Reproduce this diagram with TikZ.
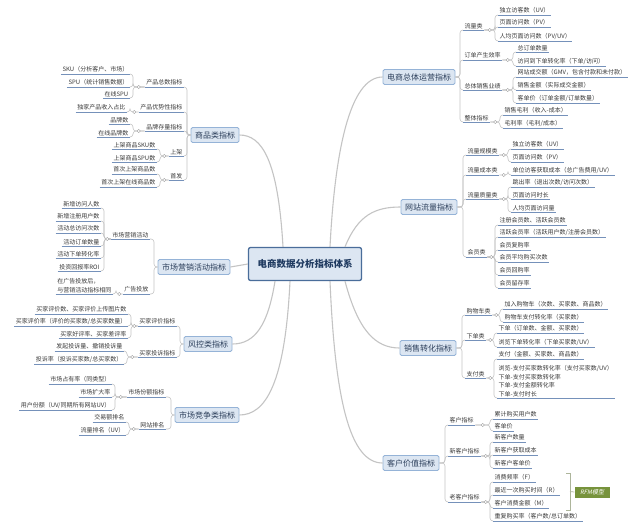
\documentclass[tikz,border=0pt]{standalone}
\usepackage{fontspec}
\newfontfamily\cjk{Noto Sans CJK SC}
\newfontfamily\cjkit[FakeSlant=0.2]{Noto Sans CJK SC}
\usetikzlibrary{calc}
\definecolor{txt}{HTML}{3A3A3A}
\definecolor{ulc}{HTML}{7591BA}
\definecolor{brc}{HTML}{C4C4C4}
\definecolor{boxfill}{HTML}{DCE6F2}
\definecolor{boxdraw}{HTML}{95B3D7}
\definecolor{boxtxt}{HTML}{2B3E5A}
\definecolor{cendraw}{HTML}{4A6D9A}
\definecolor{centxt}{HTML}{1F3A60}
\definecolor{rfmc}{HTML}{77933C}
\newcommand\rbranch[3]{%
  \foreach \c in {#3}{\draw[br] (#1.south east) -- (#1.south east -| #2) |- (\c.south west);}
  \draw[mk] ($(#1.south east)!0.5!(#1.south east -| #2)$) circle[radius=1.6pt];}
\newcommand\lbranch[3]{%
  \foreach \c in {#3}{\draw[br] (#1.south west) -- (#1.south west -| #2) |- (\c.south east);}
  \draw[mk] ($(#1.south west)!0.5!(#1.south west -| #2)$) circle[radius=1.6pt];}
\newcommand\rmain[3]{%
  \foreach \c in {#3}{\draw[br] (#1.east) -- (#1.east -| #2) |- (\c.south west);}}
\newcommand\lmain[3]{%
  \foreach \c in {#3}{\draw[br] (#1.west) -- (#1.west -| #2) |- (\c.south east);}}
\begin{document}
\begin{tikzpicture}[x=1pt,y=-1pt,
  lbl/.style={font=\cjk\fontsize{6}{8.5}\selectfont, text=txt, inner xsep=1.5pt, inner ysep=1.3pt,
    append after command={(\tikzlastnode.south west) edge[draw=ulc, line width=0.6pt] (\tikzlastnode.south east)}},
  rl/.style={lbl, anchor=south west, align=left},
  ll/.style={lbl, anchor=south east, align=left},
  mainbox/.style={draw=boxdraw, fill=boxfill, rounded corners=1.5pt, line width=0.8pt,
    font=\cjk\fontsize{8}{9}\selectfont, text=boxtxt, inner xsep=4pt, inner ysep=0pt, minimum height=15pt},
  cenbox/.style={draw=cendraw, fill=boxfill, rounded corners=2pt, line width=1.3pt,
    font=\cjk\bfseries\fontsize{9.5}{11}\selectfont, text=centxt, inner xsep=9pt, minimum height=33pt},
  br/.style={draw=brc, line width=0.6pt, rounded corners=3pt},
  conn/.style={draw=brc, line width=1.1pt},
  mk/.style={draw=brc!80!black, fill=white, line width=0.4pt},
]
\useasboundingbox (0,0) rectangle (640,527);
\fill[white] (0,0) rectangle (640,527);

% ---------- centre ----------
\node[cenbox] (cen) at (305,264) {电商数据分析指标体系};

% ---------- main boxes ----------
\node[mainbox] (A) at (419,77) {电商总体运营指标};
\node[mainbox] (B) at (429,207) {网站流量指标};
\node[mainbox] (C) at (428,348) {销售转化指标};
\node[mainbox] (D) at (411,463) {客户价值指标};
\node[mainbox] (E) at (215,135) {商品类指标};
\node[mainbox] (F) at (194,267) {市场营销活动指标};
\node[mainbox] (G) at (208,344) {风控类指标};
\node[mainbox] (H) at (207,415) {市场竞争类指标};

% ---------- centre connectors ----------
\draw[conn] ([xshift=25pt]cen.north) .. controls (335,150) and (350,77) .. (A.west);
\draw[conn] ([xshift=40pt]cen.north) .. controls (358,215) and (375,207) .. (B.west);
\draw[conn] ([xshift=40pt]cen.south) .. controls (358,330) and (375,348) .. (C.west);
\draw[conn] ([xshift=25pt]cen.south) .. controls (335,400) and (350,463) .. (D.west);
\draw[conn] ([xshift=-22pt]cen.north) .. controls (278,160) and (262,135) .. (E.east);
\draw[conn] (cen.west) -- (F.east);
\draw[conn] ([xshift=-30pt]cen.south) .. controls (268,325) and (255,344) .. (G.east);
\draw[conn] ([xshift=-15pt]cen.south) .. controls (285,385) and (265,415) .. (H.east);

% ---------- junction coordinates ----------
\coordinate (Aj) at (460,0);  \coordinate (a1j) at (495,0); \coordinate (a2j) at (513,0);
\coordinate (a3j) at (513,0); \coordinate (a4j) at (500,0);
\coordinate (Bj) at (463,0);  \coordinate (b1j) at (508,0); \coordinate (b2j) at (508,0);
\coordinate (b3j) at (508,0); \coordinate (b4j) at (495,0);
\coordinate (Cj) at (462,0);  \coordinate (c1j) at (500,0); \coordinate (c2j) at (494,0);
\coordinate (c3j) at (494,0);
\coordinate (Dj) at (445,0);  \coordinate (d1j) at (490,0); \coordinate (d2j) at (490,0);
\coordinate (d3j) at (490,0);
\coordinate (Ej) at (187,0);  \coordinate (e1j) at (133,0); \coordinate (e2j) at (130,0);
\coordinate (e3j) at (133,0); \coordinate (e4j) at (160,0); \coordinate (e5j) at (160,0);
\coordinate (Fj) at (154,0);  \coordinate (f1j) at (104,0); \coordinate (f2j) at (116,0);
\coordinate (Gj) at (180,0);  \coordinate (g1j) at (131,0); \coordinate (g2j) at (127,0);
\coordinate (Hj) at (171,0);  \coordinate (h1j) at (115,0); \coordinate (h2j) at (129,0);

% ---------- A ----------
\node[rl] (a1) at (463,30) {流量类};
\node[rl] (a2) at (463,60) {订单产生效率};
\node[rl] (a3) at (463,90) {总体销售业绩};
\node[rl] (a4) at (463,122) {整体指标};
\node[rl] (a11) at (498,15) {独立访客数（UV）};
\node[rl] (a12) at (498,27) {页面访问数（PV）};
\node[rl] (a13) at (498,41) {人均页面访问数（PV/UV）};
\node[rl] (a21) at (516,52) {总订单数量};
\node[rl] (a22) at (516,66) {访问到下单转化率（下单/访问）};
\node[rl] (a31) at (516,77) {网站成交额（GMV，包含付款和未付款）};
\node[rl] (a32) at (516,90) {销售金额（实际成交金额）};
\node[rl] (a33) at (516,103) {客单价（订单金额/订单数量）};
\node[rl] (a41) at (503,115) {销售毛利（收入-成本）};
\node[rl] (a42) at (503,128) {毛利率（毛利/成本）};
\rmain{A}{Aj}{a1,a2,a3,a4}
\rbranch{a1}{a1j}{a11,a12,a13}
\rbranch{a2}{a2j}{a21,a22}
\rbranch{a3}{a3j}{a31,a32,a33}
\rbranch{a4}{a4j}{a41,a42}

% ---------- B ----------
\node[rl] (b1) at (466,155) {流量规模类};
\node[rl] (b2) at (466,175) {流量成本类};
\node[rl] (b3) at (466,199) {流量质量类};
\node[rl] (b4) at (466,257) {会员类};
\node[rl] (b11) at (511,149) {独立访客数（UV）};
\node[rl] (b12) at (511,162) {页面访问数（PV）};
\node[rl] (b21) at (511,175) {单位访客获取成本（总广告费用/UV）};
\node[rl] (b31) at (511,187) {跳出率（退出次数/访问次数）};
\node[rl] (b32) at (511,199) {页面访问时长};
\node[rl] (b33) at (511,212) {人均页面访问量};
\node[rl] (b41) at (498,225) {注册会员数、活跃会员数};
\node[rl] (b42) at (498,237) {活跃会员率（活跃用户数/注册会员数）};
\node[rl] (b43) at (498,250) {会员复购率};
\node[rl] (b44) at (498,262) {会员平均购买次数};
\node[rl] (b45) at (498,275) {会员回购率};
\node[rl] (b46) at (498,288) {会员留存率};
\rmain{B}{Bj}{b1,b2,b3,b4}
\rbranch{b1}{b1j}{b11,b12}
\rbranch{b2}{b2j}{b21}
\rbranch{b3}{b3j}{b31,b32,b33}
\rbranch{b4}{b4j}{b41,b42,b43,b44,b45,b46}

% ---------- C ----------
\node[rl] (c1) at (465,315) {购物车类};
\node[rl] (c2) at (465,340) {下单类};
\node[rl] (c3) at (465,378) {支付类};
\node[rl] (c11) at (503,309) {加入购物车（次数、买家数、商品数）};
\node[rl] (c12) at (503,322) {购物车支付转化率（买家数）};
\node[rl] (c21) at (497,333) {下单（订单数、金额、买家数）};
\node[rl] (c22) at (497,347) {浏览下单转化率（下单买家数/UV）};
\node[rl] (c31) at (497,359) {支付（金额、买家数、商品数）};
\node[rl] (c32) at (497,398) {浏览-支付买家数转化率（支付买家数/UV）\\下单-支付买家数转化率\\下单-支付金额转化率\\下单-支付时长};
\rmain{C}{Cj}{c1,c2,c3}
\rbranch{c1}{c1j}{c11,c12}
\rbranch{c2}{c2j}{c21,c22}
\rbranch{c3}{c3j}{c31,c32}

% ---------- D ----------
\node[rl] (d1) at (448,425) {客户指标};
\node[rl] (d2) at (448,456) {新客户指标};
\node[rl] (d3) at (448,502) {老客户指标};
\node[rl] (d11) at (493,419) {累计购买用户数};
\node[rl] (d12) at (493,431) {客单价};
\node[rl] (d21) at (493,442) {新客户数量};
\node[rl] (d22) at (493,455) {新客户获取成本};
\node[rl] (d23) at (493,468) {新客户客单价};
\node[rl] (d31) at (493,482) {消费频率（F）};
\node[rl] (d32) at (493,495) {最近一次购买时间（R）};
\node[rl] (d33) at (493,508) {客户消费金额（M）};
\node[rl] (d34) at (493,521) {重复购买率（客户数/总订单数）};
\rmain{D}{Dj}{d1,d2,d3}
\rbranch{d1}{d1j}{d11,d12}
\rbranch{d2}{d2j}{d21,d22,d23}
\rbranch{d3}{d3j}{d31,d32,d33,d34}
\node[fill=rfmc, text=white, font=\cjkit\fontsize{6}{7}\selectfont, minimum width=35pt, minimum height=11pt, inner sep=0pt] (rfm) at (592,492) {RFM模型};
\coordinate (rt) at (566,473);
\coordinate (rb) at (566,510);
\draw[draw=brc!70!rfmc, line width=0.7pt] (rt) -- ++(4,0) -- ($(rb)+(4,0)$) -- (rb);
\draw[draw=brc!70!rfmc, line width=0.7pt] ($(rt)!0.5!(rb)+(4,0)$) -- (rfm.west);

% ---------- E ----------
\node[ll] (e1) at (184,87) {产品总数指标};
\node[ll] (e2) at (184,112) {产品优势性指标};
\node[ll] (e3) at (184,131) {品牌存量指标};
\node[ll] (e4) at (184,156) {上架};
\node[ll] (e5) at (184,180) {首发};
\node[ll] (e11) at (130,74) {SKU（分析客户、市场）};
\node[ll] (e12) at (130,87) {SPU（统计销售数据）};
\node[ll] (e13) at (130,98) {在线SPU};
\node[ll] (e21) at (127,112) {独家产品收入占比};
\node[ll] (e31) at (130,124) {品牌数};
\node[ll] (e32) at (130,137) {在线品牌数};
\node[ll] (e41) at (157,149) {上架商品SKU数};
\node[ll] (e42) at (157,162) {上架商品SPU数};
\node[ll] (e51) at (157,174) {首次上架商品数};
\node[ll] (e52) at (157,187) {首次上架在线商品数};
\lmain{E}{Ej}{e1,e2,e3,e4,e5}
\lbranch{e1}{e1j}{e11,e12,e13}
\lbranch{e2}{e2j}{e21}
\lbranch{e3}{e3j}{e31,e32}
\lbranch{e4}{e4j}{e41,e42}
\lbranch{e5}{e5j}{e51,e52}

% ---------- F ----------
\node[ll] (f1) at (150,239) {市场营销活动};
\node[ll] (f2) at (150,294) {广告投放};
\node[ll] (f11) at (101,208) {新增访问人数};
\node[ll] (f12) at (101,221) {新增注册用户数};
\node[ll] (f13) at (101,233) {活动总访问次数};
\node[ll] (f14) at (101,246) {活动订单数量};
\node[ll] (f15) at (101,258) {活动下单转化率};
\node[ll] (f16) at (101,271) {投资回报率ROI};
\node[ll] (f21) at (113,294) {在广告投放后，\\与营销活动指标相同};
\lmain{F}{Fj}{f1,f2}
\lbranch{f1}{f1j}{f11,f12,f13,f14,f15,f16}
\lbranch{f2}{f2j}{f21}

% ---------- G ----------
\node[ll] (g1) at (177,326) {买家评价指标};
\node[ll] (g2) at (177,357) {买家投诉指标};
\node[ll] (g11) at (128,314) {买家评价数、买家评价上传图片数};
\node[ll] (g12) at (128,326) {买家评价率（评价的买家数/总买家数量）};
\node[ll] (g13) at (128,338) {买家好评率、买家差评率};
\node[ll] (g21) at (124,351) {发起投诉量、撤销投诉量};
\node[ll] (g22) at (124,364) {投诉率（投诉买家数/总买家数）};
\lmain{G}{Gj}{g1,g2}
\lbranch{g1}{g1j}{g11,g12,g13}
\lbranch{g2}{g2j}{g21,g22}

% ---------- H ----------
\node[ll] (h1) at (166,397) {市场份额指标};
\node[ll] (h2) at (166,429) {网站排名};
\node[ll] (h11) at (112,384) {市场占有率（同类型）};
\node[ll] (h12) at (112,397) {市场扩大率};
\node[ll] (h13) at (112,410) {用户份额（UV/同期所有网站UV）};
\node[ll] (h21) at (126,422) {交易额排名};
\node[ll] (h22) at (126,435) {流量排名（UV）};
\lmain{H}{Hj}{h1,h2}
\lbranch{h1}{h1j}{h11,h12,h13}
\lbranch{h2}{h2j}{h21,h22}

\end{tikzpicture}
\end{document}
